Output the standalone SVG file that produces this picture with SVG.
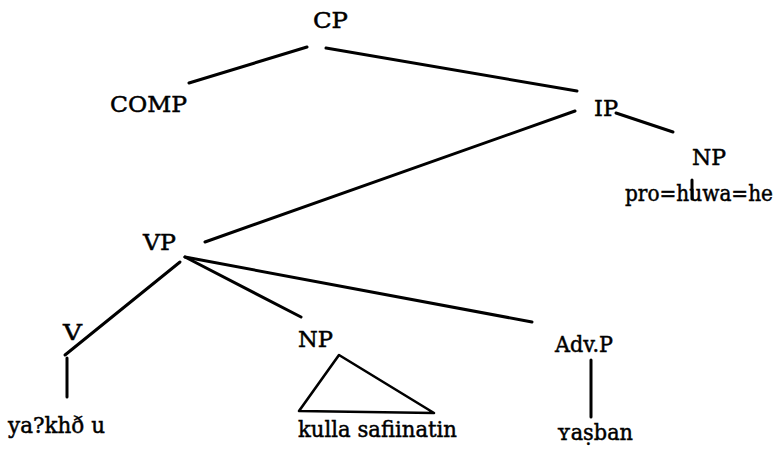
<svg xmlns="http://www.w3.org/2000/svg" width="780" height="450" viewBox="0 0 780 450">
  <style>
    .lbl { font-family: 'DejaVu Serif', 'Liberation Serif', serif; font-size: 23px; fill: #000; stroke: #000; stroke-width: 0.5px; }
    .edge { stroke: #000; stroke-width: 3; stroke-linecap: round; fill: none; }
    .tri { stroke: #000; stroke-width: 2.6; stroke-linejoin: round; fill: none; }
  </style>
  <rect width="780" height="450" fill="#fff"/>

  <!-- tree branches -->
  <g id="connectors">
    <line class="edge" x1="307" y1="47" x2="189" y2="83"/>
    <line class="edge" x1="326" y1="48" x2="577" y2="91"/>
    <line class="edge" x1="575" y1="111" x2="205" y2="242"/>
    <line class="edge" x1="616" y1="113" x2="673" y2="132"/>
    <line class="edge" x1="692" y1="180" x2="692" y2="199"/>
    <line class="edge" x1="180" y1="262" x2="65" y2="355"/>
    <line class="edge" x1="185" y1="257" x2="301" y2="317"/>
    <line class="edge" x1="185" y1="257" x2="532" y2="322"/>
    <line class="edge" x1="67" y1="358" x2="67" y2="397"/>
    <line class="edge" x1="591" y1="360" x2="591" y2="417"/>
  </g>

  <g id="cp"><text class="lbl" x="313" y="28" textLength="35" lengthAdjust="spacingAndGlyphs">CP</text></g>
  <g id="comp"><text class="lbl" x="110" y="112" textLength="77" lengthAdjust="spacingAndGlyphs">COMP</text></g>
  <g id="ip"><text class="lbl" x="594" y="116" textLength="24" lengthAdjust="spacingAndGlyphs">IP</text></g>
  <g id="np-subject"><text class="lbl" x="692" y="165" textLength="34" lengthAdjust="spacingAndGlyphs">NP</text></g>
  <g id="pro"><text class="lbl" x="625" y="201" textLength="148" lengthAdjust="spacingAndGlyphs">pro=huwa=he</text></g>
  <g id="vp"><text class="lbl" x="143" y="250" textLength="33" lengthAdjust="spacingAndGlyphs">VP</text></g>
  <g id="v"><text class="lbl" x="63" y="340" textLength="19" lengthAdjust="spacingAndGlyphs">V</text></g>
  <g id="np-object">
    <text class="lbl" x="298" y="347" textLength="35" lengthAdjust="spacingAndGlyphs">NP</text>
    <polygon class="tri" points="339,355 299,411 434,413"/>
  </g>
  <g id="advp"><text class="lbl" x="555" y="352" textLength="58" lengthAdjust="spacingAndGlyphs">Adv.P</text></g>
  <g id="verb"><text class="lbl" x="8" y="433" textLength="97" lengthAdjust="spacingAndGlyphs">ya?khð u</text></g>
  <g id="object"><text class="lbl" x="298" y="437" textLength="159" lengthAdjust="spacingAndGlyphs">kulla safiinatin</text></g>
  <g id="adverb"><text class="lbl" x="557" y="440" textLength="76" lengthAdjust="spacingAndGlyphs">ʏaṣban</text></g>
</svg>
